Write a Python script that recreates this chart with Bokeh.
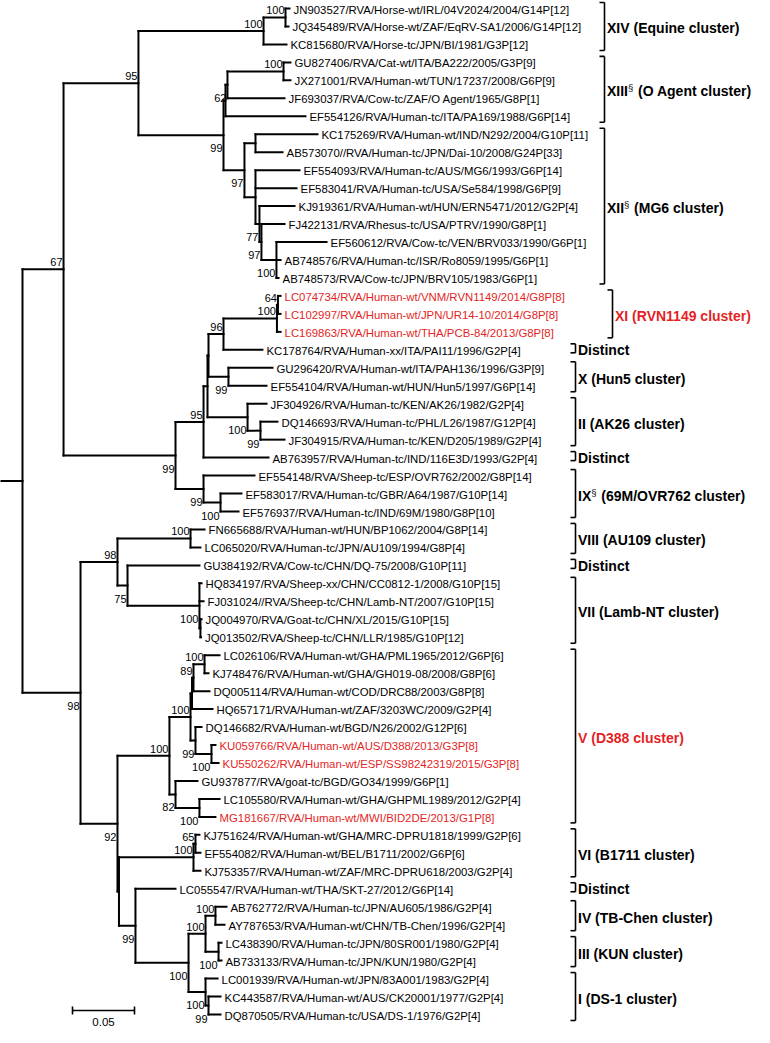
from bokeh.plotting import figure
from bokeh.models import Range1d
from bokeh.embed import file_html
from bokeh.resources import INLINE
from bokeh.core.properties import value

# ---------------- data ----------------
leaf_names = [
    "JN903527/RVA/Horse-wt/IRL/04V2024/2004/G14P[12]",
    "JQ345489/RVA/Horse-wt/ZAF/EqRV-SA1/2006/G14P[12]",
    "KC815680/RVA/Horse-tc/JPN/BI/1981/G3P[12]",
    "GU827406/RVA/Cat-wt/ITA/BA222/2005/G3P[9]",
    "JX271001/RVA/Human-wt/TUN/17237/2008/G6P[9]",
    "JF693037/RVA/Cow-tc/ZAF/O Agent/1965/G8P[1]",
    "EF554126/RVA/Human-tc/ITA/PA169/1988/G6P[14]",
    "KC175269/RVA/Human-wt/IND/N292/2004/G10P[11]",
    "AB573070//RVA/Human-tc/JPN/Dai-10/2008/G24P[33]",
    "EF554093/RVA/Human-tc/AUS/MG6/1993/G6P[14]",
    "EF583041/RVA/Human-tc/USA/Se584/1998/G6P[9]",
    "KJ919361/RVA/Human-wt/HUN/ERN5471/2012/G2P[4]",
    "FJ422131/RVA/Rhesus-tc/USA/PTRV/1990/G8P[1]",
    "EF560612/RVA/Cow-tc/VEN/BRV033/1990/G6P[1]",
    "AB748576/RVA/Human-tc/ISR/Ro8059/1995/G6P[1]",
    "AB748573/RVA/Cow-tc/JPN/BRV105/1983/G6P[1]",
    "LC074734/RVA/Human-wt/VNM/RVN1149/2014/G8P[8]",
    "LC102997/RVA/Human-wt/JPN/UR14-10/2014/G8P[8]",
    "LC169863/RVA/Human-wt/THA/PCB-84/2013/G8P[8]",
    "KC178764/RVA/Human-xx/ITA/PAI11/1996/G2P[4]",
    "GU296420/RVA/Human-wt/ITA/PAH136/1996/G3P[9]",
    "EF554104/RVA/Human-wt/HUN/Hun5/1997/G6P[14]",
    "JF304926/RVA/Human-tc/KEN/AK26/1982/G2P[4]",
    "DQ146693/RVA/Human-tc/PHL/L26/1987/G12P[4]",
    "JF304915/RVA/Human-tc/KEN/D205/1989/G2P[4]",
    "AB763957/RVA/Human-tc/IND/116E3D/1993/G2P[4]",
    "EF554148/RVA/Sheep-tc/ESP/OVR762/2002/G8P[14]",
    "EF583017/RVA/Human-tc/GBR/A64/1987/G10P[14]",
    "EF576937/RVA/Human-tc/IND/69M/1980/G8P[10]",
    "FN665688/RVA/Human-wt/HUN/BP1062/2004/G8P[14]",
    "LC065020/RVA/Human-tc/JPN/AU109/1994/G8P[4]",
    "GU384192/RVA/Cow-tc/CHN/DQ-75/2008/G10P[11]",
    "HQ834197/RVA/Sheep-xx/CHN/CC0812-1/2008/G10P[15]",
    "FJ031024//RVA/Sheep-tc/CHN/Lamb-NT/2007/G10P[15]",
    "JQ004970/RVA/Goat-tc/CHN/XL/2015/G10P[15]",
    "JQ013502/RVA/Sheep-tc/CHN/LLR/1985/G10P[12]",
    "LC026106/RVA/Human-wt/GHA/PML1965/2012/G6P[6]",
    "KJ748476/RVA/Human-wt/GHA/GH019-08/2008/G8P[6]",
    "DQ005114/RVA/Human-wt/COD/DRC88/2003/G8P[8]",
    "HQ657171/RVA/Human-wt/ZAF/3203WC/2009/G2P[4]",
    "DQ146682/RVA/Human-wt/BGD/N26/2002/G12P[6]",
    "KU059766/RVA/Human-wt/AUS/D388/2013/G3P[8]",
    "KU550262/RVA/Human-wt/ESP/SS98242319/2015/G3P[8]",
    "GU937877/RVA/goat-tc/BGD/GO34/1999/G6P[1]",
    "LC105580/RVA/Human-wt/GHA/GHPML1989/2012/G2P[4]",
    "MG181667/RVA/Human-wt/MWI/BID2DE/2013/G1P[8]",
    "KJ751624/RVA/Human-wt/GHA/MRC-DPRU1818/1999/G2P[6]",
    "EF554082/RVA/Human-wt/BEL/B1711/2002/G6P[6]",
    "KJ753357/RVA/Human-wt/ZAF/MRC-DPRU618/2003/G2P[4]",
    "LC055547/RVA/Human-wt/THA/SKT-27/2012/G6P[14]",
    "AB762772/RVA/Human-tc/JPN/AU605/1986/G2P[4]",
    "AY787653/RVA/Human-wt/CHN/TB-Chen/1996/G2P[4]",
    "LC438390/RVA/Human-tc/JPN/80SR001/1980/G2P[4]",
    "AB733133/RVA/Human-tc/JPN/KUN/1980/G2P[4]",
    "LC001939/RVA/Human-wt/JPN/83A001/1983/G2P[4]",
    "KC443587/RVA/Human-wt/AUS/CK20001/1977/G2P[4]",
    "DQ870505/RVA/Human-tc/USA/DS-1/1976/G2P[4]",
]
leaf_parent = [
    "E1", "E1", "E", "G1", "G1", "Y", "X", "I", "I", "J", "J", "K", "L", "N", "N", "N",
    "P2", "P2", "P", "Q", "H5", "H5", "U", "U2", "U2", "S", "V", "V2", "V2",
    "AU", "AU", "W2", "W3", "W3", "W4", "W4",
    "Z1c", "Z1c", "Z1e", "Z1g", "Z1d", "Z1f", "Z1f", "Z1b", "Z1h", "Z1h",
    "Vi1", "Vi1", "VI", "Z3", "IV", "IV", "III", "III", "Z6", "Z7", "Z7",
]
leaf_depth = [
    0.2153, 0.2145, 0.2129, 0.2161, 0.2161, 0.2113, 0.2282, 0.2379, 0.2097, 0.2234,
    0.2210, 0.2194, 0.2113, 0.2452, 0.2081, 0.2065, 0.2081, 0.2081, 0.2081, 0.1935,
    0.2016, 0.1968, 0.1968, 0.2056, 0.2113, 0.1984, 0.1871, 0.1766, 0.1742, 0.1468,
    0.1435, 0.1427, 0.1444, 0.1460, 0.1444, 0.1440, 0.1589, 0.1500, 0.1508, 0.1532,
    0.1444, 0.1556, 0.1581, 0.1411, 0.1589, 0.1556, 0.1427, 0.1435, 0.1435, 0.1234,
    0.1645, 0.1629, 0.1605, 0.1605, 0.1573, 0.1597, 0.1597,
]
leaf_red = [False] * 16 + [True] * 3 + [False] * 22 + [True, True, False, False, True] + [False] * 11

node_ids = ["R", "A", "C", "E", "E1", "F", "X", "Y", "G1", "H", "I", "J", "K", "L", "N",
            "D", "S", "T", "T2", "Q", "P", "P2", "H5", "U", "U2", "V", "V2",
            "B", "W", "AU", "W2", "W3", "W4", "Z", "Z1", "Z1a", "Z1g", "Z1e", "Z1c",
            "Z1d", "Z1f", "Z1b", "Z1h", "Z2", "VI", "Vi1", "Z3", "Z4", "Z5", "IV",
            "III", "Z6", "Z7"]
node_parent = [None, "R", "A", "C", "E", "C", "F", "X", "Y", "F", "H", "H", "J", "K", "L",
               "A", "D", "S", "T", "T2", "Q", "P", "T2", "T", "U", "D", "V",
               "R", "B", "W", "W", "W2", "W3", "B", "Z", "Z1", "Z1a", "Z1g", "Z1e",
               "Z1a", "Z1d", "Z1", "Z1b", "Z", "Z2", "VI", "Z2", "Z3", "Z4", "Z5",
               "Z5", "Z4", "Z6"]
node_depth = [0.0, 0.0331, 0.0935, 0.1944, 0.2121, 0.1621, 0.1637, 0.1653, 0.2105, 0.1790,
              0.1879, 0.1879, 0.1911, 0.1927, 0.2048,
              0.1234, 0.1460, 0.1492, 0.1500, 0.1621, 0.2052, 0.2060, 0.1661, 0.1815,
              0.1919, 0.1460, 0.1597,
              0.0468, 0.0766, 0.1355, 0.0847, 0.1427, 0.1435, 0.0766, 0.1185, 0.1355,
              0.1367, 0.1379, 0.1468, 0.1395, 0.1524, 0.1234, 0.1427, 0.0778, 0.1379,
              0.1395, 0.0911, 0.1339, 0.1476, 0.1556, 0.1581, 0.1476, 0.1500]
node_support = ["", "67", "95", "100", "100", "99", "", "62", "100", "97", "", "", "77", "97", "100",
                "99", "95", "", "", "96", "100", "64", "99", "100", "99", "99", "100",
                "98", "98", "100", "75", "100", "", "92", "100", "100", "", "89", "100",
                "99", "100", "82", "100", "", "100", "65", "99", "100", "100", "100",
                "100", "100", "99"]

cluster_main = ["XIV", "XIII", "XII", "XI (RVN1149 cluster)", "Distinct", "X (Hun5 cluster)",
                "II (AK26 cluster)", "Distinct", "IX", "VIII (AU109 cluster)", "Distinct",
                "VII (Lamb-NT cluster)", "V (D388 cluster)", "VI (B1711 cluster)", "Distinct",
                "IV (TB-Chen cluster)", "III (KUN cluster)", "I (DS-1 cluster)"]
cluster_sup = ["", "§", "§", "", "", "", "", "", "§", "", "", "", "", "", "", "", "", ""]
cluster_rest = ["(Equine cluster)", "(O Agent cluster)", "(MG6 cluster)", "", "", "", "",
                "", "(69M/OVR762 cluster)", "", "", "", "", "", "", "", "", ""]
cluster_first = [0, 3, 7, 16, 19, 20, 22, 25, 26, 29, 31, 32, 36, 46, 49, 50, 52, 54]
cluster_last = [2, 6, 15, 18, 19, 21, 24, 25, 28, 30, 31, 35, 45, 48, 49, 51, 53, 56]
cluster_red = [False, False, False, True, False, False, False, False, False, False, False,
               False, True, False, False, False, False, False]

scale_length = 0.05
scale_label = "0.05"

# ---------------- layout ----------------
W, H = 754, 1027
PXU = 1240.0               # pixels per substitution/site
ROOT_PX = 22.0             # canvas x of the root node
TOP = 8.0                  # canvas y of the first leaf row
BOTTOM = 1014.0            # canvas y of the last leaf row
PXL = (BOTTOM - TOP) / (len(leaf_names) - 1)
RED = "#e41f25"
support_side = {  # 'a' = label above the branch, 'b' = below
    "A": "a", "C": "a", "E": "a", "E1": "a", "F": "b", "Y": "b", "G1": "a", "H": "b",
    "K": "b", "L": "b", "N": "b", "D": "b", "S": "a", "Q": "a", "P": "a", "P2": "a",
    "H5": "b", "U": "b", "U2": "b", "V": "b", "V2": "b", "B": "b", "W": "a", "AU": "a",
    "W2": "b", "W3": "b", "Z": "b", "Z1": "a", "Z1a": "a", "Z1e": "a", "Z1c": "a",
    "Z1d": "b", "Z1f": "b", "Z1b": "b", "Z1h": "b", "VI": "a", "Vi1": "a", "Z3": "b",
    "Z4": "b", "Z5": "a", "IV": "a", "III": "b", "Z6": "b", "Z7": "b",
}
bracket_px = [604, 604, 604, 612] + [575] * 14   # canvas x of each bracket


def px2x(cx):
    return (cx - ROOT_PX) / PXU


def px2y(cy):
    return (cy - TOP) / PXL


depth = dict(zip(node_ids, node_depth))
parent = dict(zip(node_ids, node_parent))
children = {n: [] for n in node_ids}
ypos = {}
for i, par in enumerate(leaf_parent):
    k = "leaf%d" % i
    ypos[k] = float(i)
    depth[k] = leaf_depth[i]
    parent[k] = par
    children[par].append(k)
for n, par in zip(node_ids, node_parent):
    if par:
        children[par].append(n)


def get_y(n):
    if n in ypos:
        return ypos[n]
    ys = [get_y(c) for c in children[n]]
    ypos[n] = (min(ys) + max(ys)) / 2.0
    return ypos[n]


get_y("R")

hx0, hx1, hy = [], [], []
for k in list(parent.keys()):
    if parent[k] is None:
        continue
    hx0.append(depth[parent[k]])
    hx1.append(depth[k])
    hy.append(ypos[k])
# root stub
hx0.append(px2x(0))
hx1.append(0.0)
hy.append(ypos["R"])

vx, vy0, vy1 = [], [], []
for n in node_ids:
    ys = [ypos[c] for c in children[n]]
    vx.append(depth[n])
    vy0.append(min(ys))
    vy1.append(max(ys))

p = figure(width=W, height=H, output_backend="svg", toolbar_location=None,
           x_range=Range1d(px2x(0), px2x(W)),
           y_range=Range1d(px2y(H), px2y(0)),
           min_border=0, outline_line_color=None, background_fill_color="white")
p.axis.visible = False
p.grid.visible = False

p.segment(x0=hx0, y0=hy, x1=hx1, y1=hy, line_width=2, line_color="black", line_cap="square")
p.segment(x0=vx, y0=vy0, x1=vx, y1=vy1, line_width=2, line_color="black", line_cap="square")

FONT = value("Liberation Sans")
# leaf labels
p.text(x=leaf_depth, y=list(range(len(leaf_names))), text=leaf_names,
       text_color=[RED if r else "black" for r in leaf_red],
       text_font=FONT, text_font_size="11.4px", text_baseline="middle",
       x_offset=4, y_offset=1)

# bootstrap values
for side, yoff in (("a", -7), ("b", 13)):
    xs, ys, ts = [], [], []
    for n, s in zip(node_ids, node_support):
        if s and support_side.get(n) == side:
            xs.append(depth[n]); ys.append(ypos[n]); ts.append(s)
    p.text(x=xs, y=ys, text=ts, text_font=FONT, text_font_size="11px",
           text_align="right", text_baseline="middle", x_offset=-1, y_offset=yoff,
           text_color="black")

# cluster brackets and labels
bw = 5.0 / PXU
BOLDW = {"X": 0.667, "I": 0.278, "V": 0.667}
for i in range(len(cluster_main)):
    f, l = cluster_first[i], cluster_last[i]
    if f == l:
        top, bot = f - 6.0 / PXL, l + 3.0 / PXL
    else:
        top, bot = f - 6.0 / PXL, l + 6.0 / PXL
    bx = px2x(bracket_px[i])
    p.segment(x0=[bx, bx - bw, bx - bw], y0=[top, top, bot], x1=[bx, bx, bx], y1=[bot, top, bot],
              line_width=1.6, line_color="black")
    col = RED if cluster_red[i] else "black"
    ym = (top + bot) / 2.0 + 2.0 / PXL
    tx = bx + 2.5 / PXU
    p.text(x=[tx], y=[ym], text=[cluster_main[i]], text_font=FONT, text_font_size="14px",
           text_font_style="bold", text_baseline="middle", text_color=col)
    wmain = sum(BOLDW.get(c, 0.6) for c in cluster_main[i]) * 14
    off = wmain + 4.0
    if cluster_sup[i]:
        p.text(x=[tx], y=[ym], text=[cluster_sup[i]], text_font=FONT, text_font_size="9.5px",
               text_baseline="middle", x_offset=wmain, y_offset=-3.5, text_color=col)
        off = wmain + 10.0
    if cluster_rest[i]:
        p.text(x=[tx], y=[ym], text=[cluster_rest[i]], text_font=FONT, text_font_size="14px",
               text_font_style="bold", text_baseline="middle", x_offset=off,
               text_color=col)

# scale bar
sx0 = px2x(72)
sy = px2y(1010)
tick = 4.0 / PXL
p.segment(x0=[sx0, sx0, sx0 + scale_length], y0=[sy, sy - tick, sy - tick],
          x1=[sx0 + scale_length, sx0, sx0 + scale_length], y1=[sy, sy + tick, sy + tick],
          line_width=1.6, line_color="black")
p.text(x=[sx0 + scale_length / 2], y=[sy], text=[scale_label], text_font=FONT,
       text_font_size="11.5px", text_align="center", text_baseline="middle", y_offset=11,
       text_color="black")

open("out.html", "w").write(file_html(p, INLINE))
